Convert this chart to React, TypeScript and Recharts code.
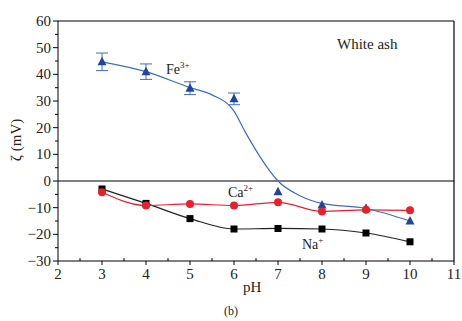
import {
  ComposedChart,
  Line,
  Scatter,
  ErrorBar,
  XAxis,
  YAxis,
  ReferenceLine,
} from "recharts";

const phValues = [3, 4, 5, 6, 7, 8, 9, 10];
const feValues = [44.7, 41, 34.8, 30.8, -4, -9, -10.2, -15];
const feErrors = [3.3, 2.9, 2.4, 2.2, 0, 0, 0, 0];
const caValues = [-4.2, -9.2, -8.6, -9.2, -8, -11.4, -10.8, -11];
const naValues = [-3, -8.4, -14.1, -18, -17.8, -18, -19.5, -22.8];

// fitted curve for Fe3+
const feFitPh = [3, 4, 5, 5.5, 6, 6.25, 6.5, 6.75, 7, 7.5, 8, 9, 10];
const feFitValues = [44.7, 41, 35, 32.3, 26.2, 18.5, 11.5, 5.2, 0, -5.5, -8.4, -10.3, -15];

const xTicks = [2, 2.5, 3, 3.5, 4, 4.5, 5, 5.5, 6, 6.5, 7, 7.5, 8, 8.5, 9, 9.5, 10, 10.5, 11];
const yTicks = [-30, -25, -20, -15, -10, -5, 0, 5, 10, 15, 20, 25, 30, 35, 40, 45, 50, 55, 60];

const feData = phValues.map((ph, i) => ({ ph, v: feValues[i], err: feErrors[i] }));
const caData = phValues.map((ph, i) => ({ ph, v: caValues[i] }));
const naData = phValues.map((ph, i) => ({ ph, v: naValues[i] }));
const feFit = feFitPh.map((ph, i) => ({ ph, v: feFitValues[i] }));

const FONT = "'Liberation Serif', 'Times New Roman', serif";

const YTick = (props: any) => {
  const { x, y, payload } = props;
  const major = payload.value % 10 === 0;
  return (
    <g>
      <line x1={x - (major ? 5 : 3)} x2={x} y1={y} y2={y} stroke="#000" />
      {major && (
        <text x={x - 7} y={y} dy={5} textAnchor="end" fontSize={15} fontFamily={FONT} fill="#222">
          {payload.value < 0 ? "\u2212" + Math.abs(payload.value) : payload.value}
        </text>
      )}
    </g>
  );
};

const XTick = (props: any) => {
  const { x, y, payload } = props;
  const major = Number.isInteger(payload.value);
  return (
    <g>
      <line x1={x} x2={x} y1={y} y2={y + (major ? 4 : -3)} stroke="#000" />
      {major && (
        <text x={x} y={y + 18} textAnchor="middle" fontSize={15} fontFamily={FONT} fill="#222">
          {payload.value}
        </text>
      )}
    </g>
  );
};

const Triangle = (props: any) => {
  const { cx, cy } = props;
  return <polygon points={`${cx},${cy - 5} ${cx - 4.5},${cy + 3.5} ${cx + 4.5},${cy + 3.5}`} fill="#1f45a3" />;
};

const CircleDot = (props: any) => (
  <circle key={"c" + props.index} cx={props.cx} cy={props.cy} r={4} fill="#e8202a" />
);

const SquareDot = (props: any) => (
  <rect key={"s" + props.index} x={props.cx - 3.5} y={props.cy - 3.5} width={7} height={7} fill="#000" />
);

const labelStyle: React.CSSProperties = {
  position: "absolute",
  fontFamily: FONT,
  color: "#222",
  whiteSpace: "nowrap",
  lineHeight: 1,
};

export default function App() {
  return (
    <div style={{ position: "absolute", left: 0, top: 0, width: 462, height: 321, background: "#fff" }}>
      <ComposedChart width={462} height={321} margin={{ top: 21, right: 8, bottom: 30, left: 0 }}>
        <XAxis
          dataKey="ph"
          type="number"
          domain={[2, 11]}
          ticks={xTicks}
          interval={0}
          tickSize={0}
          tickMargin={0}
          tick={<XTick />}
          height={30}
          stroke="#000"
          allowDuplicatedCategory={false}
        />
        <YAxis
          type="number"
          domain={[-30, 60]}
          ticks={yTicks}
          interval={0}
          tickSize={0}
          tickMargin={0}
          tick={<YTick />}
          width={58}
          stroke="#000"
        />
        <ReferenceLine y={60} stroke="#000" strokeWidth={1.2} />
        <ReferenceLine x={11} stroke="#000" strokeWidth={1.2} />
        <ReferenceLine y={0} stroke="#000" strokeWidth={1.2} />
        <Line
          data={naData}
          dataKey="v"
          type="monotone"
          stroke="#222"
          strokeWidth={1.2}
          dot={SquareDot}
          activeDot={false}
          isAnimationActive={false}
        />
        <Line
          data={caData}
          dataKey="v"
          type="monotone"
          stroke="#e8202a"
          strokeWidth={1.2}
          dot={CircleDot}
          activeDot={false}
          isAnimationActive={false}
        />
        <Line
          data={feFit}
          dataKey="v"
          type="monotone"
          stroke="#3d6cc4"
          strokeWidth={1.2}
          dot={false}
          activeDot={false}
          isAnimationActive={false}
        />
        <Scatter data={feData} dataKey="v" shape={<Triangle />} isAnimationActive={false}>
          <ErrorBar dataKey="err" direction="y" width={6} stroke="#3d6cc4" strokeWidth={1} />
        </Scatter>
      </ComposedChart>
      <div
        style={{
          ...labelStyle,
          left: 16,
          top: 140,
          fontSize: 15,
          transform: "translate(-50%, -50%) rotate(-90deg)",
        }}
      >
        ζ (mV)
      </div>
      <div style={{ ...labelStyle, left: 337, top: 37, fontSize: 15 }}>White ash</div>
      <div style={{ ...labelStyle, left: 166, top: 61, fontSize: 14 }}>
        Fe<sup style={{ fontSize: 9 }}>3+</sup>
      </div>
      <div style={{ ...labelStyle, left: 228, top: 184, fontSize: 14 }}>
        Ca<sup style={{ fontSize: 9 }}>2+</sup>
      </div>
      <div style={{ ...labelStyle, left: 302, top: 236, fontSize: 14 }}>
        Na<sup style={{ fontSize: 9 }}>+</sup>
      </div>
      <div style={{ ...labelStyle, left: 243, top: 280, fontSize: 15 }}>pH</div>
      <div style={{ ...labelStyle, left: 224, top: 305, fontSize: 12 }}>(b)</div>
    </div>
  );
}
